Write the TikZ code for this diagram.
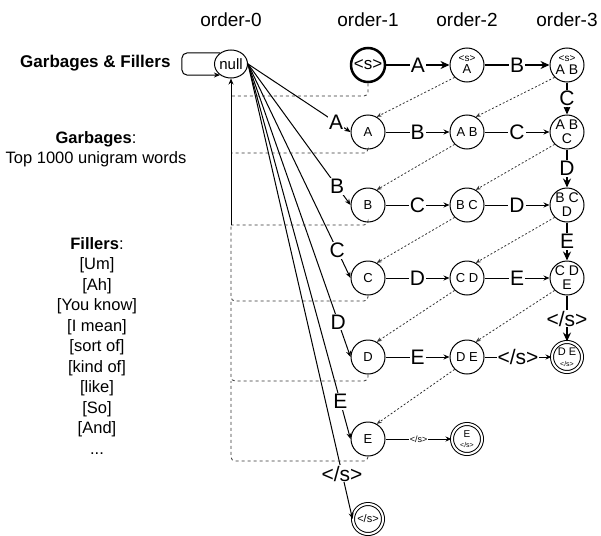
\documentclass[tikz,border=0pt]{standalone}
\usepackage{fontspec}
\setmainfont{Liberation Sans}
\usetikzlibrary{arrows.meta}
\usetikzlibrary{shapes.geometric}
\newcommand{\bos}{\textless s\textgreater}
\newcommand{\eos}{\textless/s\textgreater}
\newcommand{\fs}[1]{\fontsize{#1}{#1}\selectfont}
\tikzset{
  state/.style={circle, draw, line width=1pt, minimum size=34pt, inner sep=0pt, align=center, font=\fs{13}},
  final/.style={state, double, double distance=2pt, minimum size=30pt},
  hop/.style={-{Stealth[length=6pt, width=5pt]}, line width=1pt},
  bighop/.style={-{Stealth[length=9pt, width=8pt]}, line width=2pt},
  lbl/.style={fill=white, inner sep=1pt, font=\fs{21}},
  backoff/.style={-{Stealth[length=5pt, width=4pt]}, line width=0.8pt, dash pattern=on 2pt off 2pt, black!80},
  fail/.style={line width=0.8pt, dash pattern=on 3pt off 3pt, black!80, rounded corners=4pt},
}

\begin{document}
\begin{tikzpicture}[x=1pt, y=-1pt]
\useasboundingbox (0, 0) rectangle (601, 535);
% column titles
\node [font=\fs{19}] (o0) at (231, 20) {order-0};
\node [font=\fs{19}] (o1) at (368, 20) {order-1};
\node [font=\fs{19}] (o2) at (467, 20) {order-2};
\node [font=\fs{19}] (o3) at (567, 20) {order-3};
% left side texts
\node [font=\fs{17}\bfseries, anchor=east] (gf) at (174, 63) {Garbages \& Fillers};
\node [font=\fontsize{16.5}{20}\selectfont, align=center] (garb) at (96, 149) {\textbf{Garbages}:\\Top 1000 unigram words};
\node [font=\fontsize{16.5}{20.5}\selectfont, align=center] (fill) at (97, 346) {\textbf{Fillers}:\\{[Um]}\\{[Ah]}\\{[You know]}\\{[I mean]}\\{[sort of]}\\{[kind of]}\\{[like]}\\{[So]}\\{[And]}\\...};
% states
\node [state, ellipse, minimum width=32pt, minimum height=28pt, font=\fs{15}] (null) at (231, 64) {null};
\node [state, line width=2.5pt, font=\fs{17}] (s) at (368, 65) {\bos};
\node [state] (sA) at (467, 65) {{\fs{10}\bos}\\[-1pt]A};
\node [state, font=\fs{14}] (sAB) at (567, 65) {{\fs{10}\bos}\\[-1pt]A B};
\node [state] (A) at (368, 132) {A};
\node [state] (AB) at (467, 132) {A B};
\node [state, font=\fs{14}] (ABC) at (567, 132) {A B\\C};
\node [state] (B) at (368, 205) {B};
\node [state] (BC) at (467, 205) {B C};
\node [state, font=\fs{14}] (BCD) at (567, 205) {B C\\D};
\node [state] (C) at (368, 278) {C};
\node [state] (CD) at (467, 278) {C D};
\node [state, font=\fs{14}] (CDE) at (567, 278) {C D\\E};
\node [state] (D) at (368, 357) {D};
\node [state] (DE) at (467, 357) {D E};
\node [final, font=\fs{11}] (DEe) at (567, 357) {D E\\{\fs{7}\eos}};
\node [state] (E) at (368, 439) {E};
\node [final, font=\fs{10}] (Ee) at (467, 439) {E\\{\fs{7}\eos}};
\node [final, font=\fs{11}] (e) at (368, 519) {\eos};
% self loop on null
\draw [hop, rounded corners=5pt] (null.135) -- ++(-38, 0) |- (null.225);
% top row and order-3 column
\draw [bighop] (s) -- node [lbl] {A} (sA);
\draw [bighop] (sA) -- node [lbl] {B} (sAB);
\draw [bighop] (sAB) -- node [lbl] {C} (ABC);
\draw [bighop] (ABC) -- node [lbl] {D} (BCD);
\draw [bighop] (BCD) -- node [lbl] {E} (CDE);
\draw [bighop] (CDE) -- node [lbl] {\eos} (DEe);
% rows
\draw [hop] (A) -- node [lbl] {B} (AB);
\draw [hop] (AB) -- node [lbl] {C} (ABC);
\draw [hop] (B) -- node [lbl] {C} (BC);
\draw [hop] (BC) -- node [lbl] {D} (BCD);
\draw [hop] (C) -- node [lbl] {D} (CD);
\draw [hop] (CD) -- node [lbl] {E} (CDE);
\draw [hop] (D) -- node [lbl] {E} (DE);
\draw [hop] (DE) -- node [lbl] {\eos} (DEe);
\draw [hop] (E) -- node [lbl, font=\fs{9}] {\eos} (Ee);
% from null
\draw [hop] (null.east) -- node [lbl, pos=0.86] {A} (A.west);
\draw [hop] (null.east) -- node [lbl, pos=0.87] {B} (B.west);
\draw [hop] (null.east) -- node [lbl, pos=0.87] {C} (C.west);
\draw [hop] (null.east) -- node [lbl, pos=0.88] {D} (D.west);
\draw [hop] (null.east) -- node [lbl, pos=0.9] {E} (E.west);
\draw [hop] (null.east) -- node [lbl, pos=0.9] {\eos} (e.west);
% back-off
\draw [backoff] (sA.225) -- (A.60);
\draw [backoff] (sAB.225) -- (AB.60);
\draw [backoff] (AB.225) -- (B.60);
\draw [backoff] (ABC.225) -- (BC.60);
\draw [backoff] (BC.225) -- (C.60);
\draw [backoff] (BCD.225) -- (CD.60);
\draw [backoff] (CD.225) -- (D.60);
\draw [backoff] (CDE.225) -- (DE.60);
\draw [backoff] (DE.225) -- (E.60);
% back to null
\coordinate (fs) at (231, 96);
\coordinate (fA) at (231, 153);
\coordinate (fB) at (231, 225);
\coordinate (fC) at (231, 301);
\coordinate (fD) at (231, 381);
\coordinate (fE) at (231, 461);
\draw [fail] (s.south) |- (fs);
\draw [fail] (A.south) |- (fA);
\draw [fail] (B.south) |- (fB);
\draw [fail] (C.south) |- (fC) -- (fB);
\draw [fail] (D.south) |- (fD) -- (fC);
\draw [fail] (E.south) |- (fE) -- (fD);
\draw [hop] (fB) -- (null.south);
\end{tikzpicture}
\end{document}
